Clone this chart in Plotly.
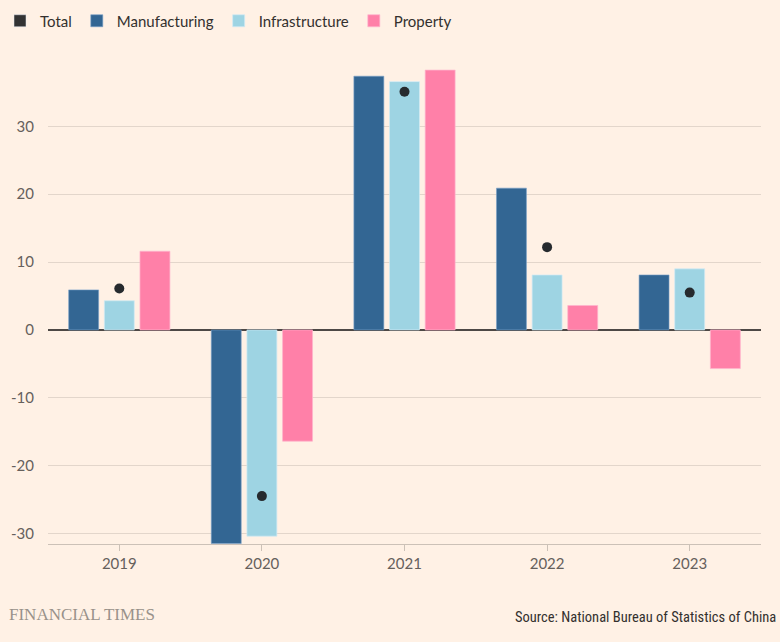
import plotly.graph_objects as go

years = ["2019", "2020", "2021", "2022", "2023"]
manufacturing = [5.9, -31.5, 37.4, 20.9, 8.1]
infrastructure = [4.3, -30.4, 36.6, 8.1, 9.0]
property_ = [11.6, -16.4, 38.3, 3.6, -5.7]
total = [6.1, -24.5, 35.1, 12.2, 5.5]
y_ticks = [-30, -20, -10, 0, 10, 20, 30]
y_tick_labels = ["-30", "-20", "-10", "0", "10", "20", "30"]

BG = "#fff1e5"
FONT = "Lato"
TXT = "#66605c"

fig = go.Figure()

# Legend-only swatch for Total (drawn as rectangle like reference)
fig.add_trace(go.Bar(x=years, y=[None] * len(years), name="Total",
                     marker=dict(color="#333333"), xaxis="x2", hoverinfo="skip"))

series = [
    ("Manufacturing", manufacturing, "#336693", "rgba(120,160,200,0.6)"),
    ("Infrastructure", infrastructure, "#9ed4e3", "rgba(210,235,245,0.7)"),
    ("Property", property_, "#ff80a8", "rgba(255,180,205,0.7)"),
]
for name, vals, col, lcol in series:
    fig.add_trace(go.Bar(x=years, y=vals, name=name,
                         marker=dict(color=col, line=dict(color=lcol, width=1))))

fig.add_trace(go.Scatter(x=years, y=total, mode="markers", name="Total",
                         showlegend=False,
                         marker=dict(color="#262a2e", size=10)))

fig.update_layout(
    width=780, height=642,
    paper_bgcolor=BG, plot_bgcolor=BG,
    margin=dict(l=48, r=19, t=45, b=98),
    barmode="group", bargap=0.25, bargroupgap=0.16,
    font=dict(family=FONT, size=15, color=TXT),
    showlegend=True,
    legend=dict(orientation="h", x=0.0, xanchor="left", y=1 - 21 / 642, yanchor="middle",
                xref="container", yref="container",
                font=dict(family=FONT, size=15, color="#33302e"),
                bgcolor="rgba(0,0,0,0)", itemwidth=30, tracegroupgap=0),
    xaxis=dict(type="category", range=[-0.5, 4.5], showgrid=False,
               showline=True, linecolor="#ccc1b7", linewidth=1,
               ticks="outside", ticklen=6, tickcolor="#ccc1b7", automargin=False,
               tickfont=dict(family=FONT, size=15, color=TXT), zeroline=False),
    xaxis2=dict(type="category", overlaying="x", visible=False, range=[-0.5, 4.5]),
    yaxis=dict(range=[-31.56, 42], tickvals=y_ticks, ticktext=y_tick_labels,
               showgrid=True, automargin=False,
               gridcolor="#e3d6cb", gridwidth=1, zeroline=True,
               zerolinecolor="#4d4845", zerolinewidth=1.5,
               ticks="", ticklabelstandoff=13,
               tickfont=dict(family=FONT, size=15, color=TXT)),
)

fig.add_annotation(text="FINANCIAL TIMES", xref="paper", yref="paper",
                   x=0, xshift=-41, y=0, yshift=-70, xanchor="left", yanchor="middle",
                   showarrow=False,
                   font=dict(family="Liberation Serif", size=17, color="#99918a"))
fig.add_annotation(text="Source: National Bureau of Statistics of China",
                   xref="paper", yref="paper", x=1, xshift=17, y=0, yshift=-73,
                   xanchor="right", yanchor="middle", showarrow=False,
                   font=dict(family="Roboto Condensed, Liberation Sans Narrow, Roboto", size=14.5,
                             color="#33302e"))

fig.write_html("out.html", config={"displayModeBar": False},
               post_script="document.body.style.margin='0';document.body.style.padding='0';")
